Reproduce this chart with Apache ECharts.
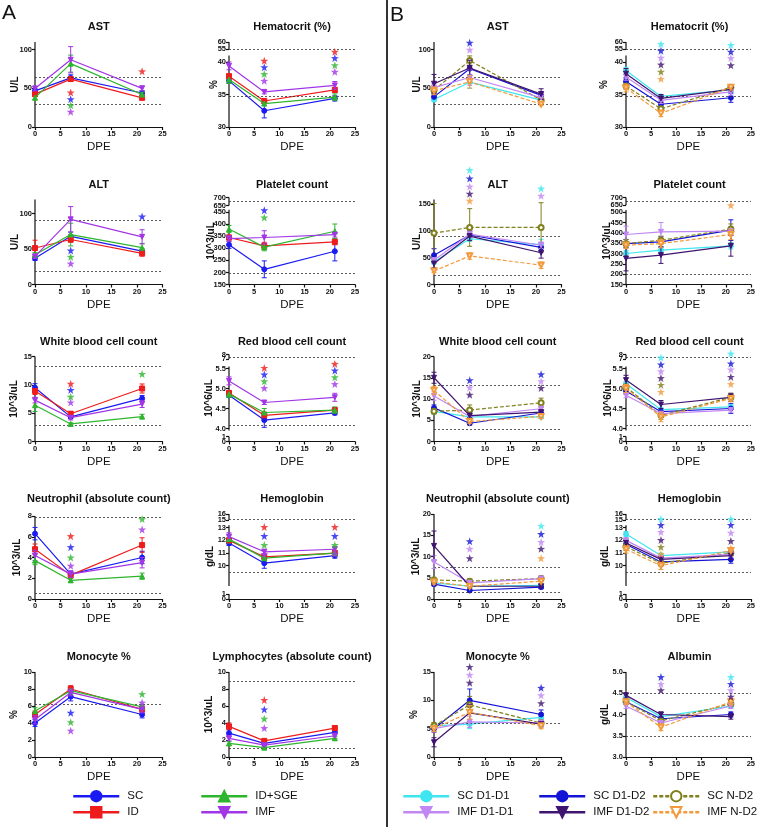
<!DOCTYPE html>
<html><head><meta charset="utf-8">
<script src="https://cdn.jsdelivr.net/npm/echarts@6/dist/echarts.min.js"></script>
<style>html,body{margin:0;padding:0;background:#fff}#c{width:758px;height:827px}</style>
</head><body><div id="c"></div><script>
// ---------------- DATA ----------------
const DPE = [0, 7, 21];
const GROUP_A = ['SC', 'ID', 'ID+SGE', 'IMF'];
const GROUP_B = ['SC D1-D1', 'SC D1-D2', 'SC N-D2', 'IMF D1-D1', 'IMF D1-D2', 'IMF N-D2'];

// ---- Panel A (rows follow GROUP_A order) ----
const astA_mean = [[46.7,63.5,44],[42.5,62,37.7],[38,82,42],[49.8,87,50]];
const astA_err  = [[3,4,3],[3,3,2],[3,11,3],[3,17,3]];
const astA_stars = [[7,44.6,'ID'],[7,36,'SC'],[7,28,'ID+SGE'],[7,19.7,'IMF'],[21,72,'ID']];
const astA_refs = [29, 64];
const astA_ticks = ['0','50','100'];

const hctA_mean = [[37.1,32.5,34.4],[37.8,34.0,35.7],[37.3,33.6,34.6],[39.4,35.4,36.4]];
const hctA_err  = [[0.4,1.1,0.4],[0.4,0.4,0.4],[0.6,0.3,0.5],[0.6,0.3,0.6]];
const hctA_stars = [[7,40.2,'ID'],[7,39.2,'SC'],[7,38.15,'ID+SGE'],[7,37.1,'IMF'],
                    [21,49.2,'ID'],[21,40.6,'SC'],[21,39.5,'ID+SGE'],[21,38.5,'IMF']];
const hctA_refs = [34.7, 55];
const hctA_ticks = ['30','35','40','55','60'];

const altA_mean = [[37,68,47],[51.5,63.5,44],[42,70.5,52],[39.7,92,67.3]];
const altA_err  = [[3,6,3],[11,4,4],[3,16,6],[3,18,10]];
const altA_stars = [[7,48,'SC'],[7,39,'ID+SGE'],[7,29.5,'IMF'],[21,96,'SC']];
const altA_refs = [19, 91];
const altA_ticks = ['0','50','100'];

const pltA_mean = [[315,213,288],[345,310,327],[380,305,371],[340,345,357]];
const pltA_err  = [[15,35,40],[10,15,12],[15,15,30],[12,28,10]];
const pltA_stars = [[7,458,'SC'],[7,428,'ID+SGE']];
const pltA_refs = [197, 675];
const pltA_ticks = ['150','200','250','300','350','400','450','650','700'];

const wbcA_mean = [[9.5,4.35,7.6],[8.9,4.9,9.35],[6.4,3.1,4.4],[7.3,4.2,6.6]];
const wbcA_err  = [[0.7,0.3,0.5],[0.6,0.4,0.8],[1.1,0.2,0.4],[0.5,0.4,0.6]];
const wbcA_stars = [[7,10.2,'ID'],[7,9.1,'SC'],[7,7.9,'ID+SGE'],[7,6.9,'IMF'],[21,11.9,'ID+SGE']];
const wbcA_refs = [2.9, 13.2];
const wbcA_ticks = ['0','5','10','15'];

const rbcA_mean = [[4.83,4.21,4.39],[4.89,4.33,4.46],[4.86,4.40,4.46],[5.19,4.65,4.78]];
const rbcA_err  = [[0.05,0.18,0.05],[0.05,0.08,0.05],[0.08,0.1,0.08],[0.1,0.05,0.1]];
const rbcA_stars = [[7,5.515,'ID'],[7,5.35,'SC'],[7,5.18,'ID+SGE'],[7,5.01,'IMF'],
                    [21,6.05,'ID'],[21,5.45,'SC'],[21,5.28,'ID+SGE'],[21,5.11,'IMF']];
const rbcA_refs = [4.08, 7.3];
const rbcA_ticks = ['0','1','4.0','4.5','5.0','5.5','7','8'];

const neuA_mean = [[6.3,2.4,4.0],[4.8,2.3,5.2],[3.7,1.8,2.2],[4.2,2.4,3.5]];
const neuA_err  = [[0.6,0.3,0.6],[0.5,0.3,0.7],[0.4,0.2,0.3],[0.5,0.3,0.5]];
const neuA_stars = [[7,6.06,'ID'],[7,5.0,'SC'],[7,4.0,'ID+SGE'],[7,3.2,'IMF'],[21,7.7,'ID+SGE'],[21,6.7,'IMF']];
const neuA_refs = [0.6, 7.9];
const neuA_ticks = ['0','2','4','6','8'];

const hgbA_mean = [[11.8,10.2,10.8],[12.0,10.7,11.0],[12.1,10.6,11.0],[12.3,11.1,11.3]];
const hgbA_err  = [[0.2,0.4,0.2],[0.2,0.2,0.2],[0.3,0.2,0.2],[0.3,0.2,0.2]];
const hgbA_stars = [[7,13.06,'ID'],[7,12.35,'SC'],[7,11.64,'ID+SGE'],[7,10.93,'IMF'],
                    [21,13.06,'ID'],[21,12.35,'SC'],[21,11.64,'ID+SGE'],[21,10.93,'IMF']];
const hgbA_refs = [9.45, 15.2];
const hgbA_ticks = ['0','1','10','11','12','13','15','16'];

const monA_mean = [[4.0,7.1,5.0],[5.0,8.0,5.6],[5.4,7.8,5.9],[4.4,7.6,5.6]];
const monA_err  = [[0.4,0.5,0.4],[0.4,0.4,0.4],[0.4,0.4,0.3],[0.5,0.4,0.4]];
const monA_stars = [[7,5.2,'SC'],[7,4.1,'ID+SGE'],[7,3.1,'IMF'],[21,7.4,'ID+SGE'],[21,6.4,'IMF']];
const monA_refs = [6.2];
const monA_ticks = ['0','2','4','6','8','10'];

const lymA_mean = [[2.8,1.6,2.9],[3.6,1.9,3.4],[1.6,1.1,2.2],[2.2,1.4,2.5]];
const lymA_err  = [[0.4,0.2,0.3],[0.4,0.2,0.3],[0.2,0.1,0.2],[0.3,0.2,0.3]];
const lymA_stars = [[7,6.7,'ID'],[7,5.6,'SC'],[7,4.5,'ID+SGE'],[7,3.4,'IMF']];
const lymA_refs = [1.0, 8.9];
const lymA_ticks = ['0','2','4','6','8','10'];

// ---- Panel B (rows follow GROUP_B order) ----
const astB_mean = [[35.6,58,34.8],[39,75.5,41],[47.6,86,35],[51,64,38],[56,76.4,42.5],[46.8,58.4,29.6]];
const astB_err  = [[3,8,3],[4,8,5],[5,6,4],[5,10,5],[12,10,7],[5,8,2]];
const astB_stars = [[7,109,'SC D1-D2'],[7,100,'IMF D1-D1']];
const astB_refs = [29, 64];
const astB_ticks = ['0','50','100'];

const hctB_mean = [[38.7,34.7,35.7],[37,33.5,34.5],[36.3,32.8,36.1],[37.7,34.1,35.4],[38.2,34.4,35.8],[36,32.1,36.1]];
const hctB_err  = [[0.5,0.3,0.4],[0.6,0.5,0.7],[0.5,0.4,0.4],[0.5,0.5,0.5],[0.8,0.6,0.4],[0.6,0.5,0.4]];
const hctB_stars = [[7,58.6,'SC D1-D1'],[7,51.3,'SC D1-D2'],[7,40.66,'IMF D1-D1'],[7,39.6,'IMF D1-D2'],[7,38.5,'SC N-D2'],[7,37.4,'IMF N-D2'],
                    [21,57.9,'SC D1-D1'],[21,49.2,'SC D1-D2'],[21,40.6,'IMF D1-D1'],[21,39.5,'IMF D1-D2']];
const hctB_refs = [34.7, 55];
const hctB_ticks = ['30','35','40','55','60'];

const altB_mean = [[42,85,74],[54.5,92,69],[95.5,106,106],[45,93.6,73],[39,90,59],[25,53,36]];
const altB_err  = [[4,5,10],[12,8,8],[55,35,46],[5,6,6],[8,8,10],[3,6,6]];
const altB_stars = [[7,212.6,'SC D1-D1'],[7,197,'SC D1-D2'],[7,182,'IMF D1-D1'],[7,168.6,'IMF D1-D2'],[7,155.6,'IMF N-D2'],
                    [21,178.5,'SC D1-D1'],[21,165,'IMF D1-D1']];
const altB_refs = [18, 90];
const altB_ticks = ['0','50','100','150'];

const pltB_mean = [[300,316,337],[348,356,413],[348,364,418],[392,405,408],[276,292,337],[340,348,392]];
const pltB_err  = [[15,15,15],[20,25,50],[20,20,25],[40,45,20],[60,40,50],[15,20,25]];
const pltB_stars = [[21,648,'IMF N-D2']];
const pltB_refs = [198, 674];
const pltB_ticks = ['150','200','250','300','350','400','450','500','650','700'];

const wbcB_mean = [[7.1,5.8,5.8],[7.9,4.3,6.7],[7.1,7.4,9.1],[10.7,5.9,7.7],[15,6.1,6.9],[12,4.7,5.9]];
const wbcB_err  = [[0.6,0.3,0.4],[0.7,0.4,0.5],[0.6,1.2,1.1],[1.0,0.5,0.6],[1.3,0.5,0.6],[1.0,0.4,0.5]];
const wbcB_stars = [[7,14.4,'SC D1-D2'],[7,12.7,'IMF D1-D1'],[7,11,'IMF D1-D2'],
                    [21,15.8,'SC D1-D2'],[21,14.2,'IMF D1-D1'],[21,12.6,'IMF D1-D2']];
const wbcB_refs = [3.0, 13.2];
const wbcB_ticks = ['0','5','10','15','20'];

const rbcB_mean = [[5.12,4.47,4.54],[4.94,4.42,4.5],[5.04,4.33,4.78],[4.83,4.37,4.46],[5.21,4.6,4.78],[5.0,4.29,4.75]];
const rbcB_err  = [[0.06,0.06,0.05],[0.08,0.05,0.12],[0.07,0.1,0.1],[0.06,0.05,0.05],[0.12,0.1,0.1],[0.1,0.12,0.08]];
const rbcB_stars = [[7,7.32,'SC D1-D1'],[7,5.93,'SC D1-D2'],[7,5.43,'IMF D1-D1'],[7,5.26,'IMF D1-D2'],[7,5.09,'SC N-D2'],[7,4.915,'IMF N-D2'],
                    [21,8.2,'SC D1-D1'],[21,6.13,'SC D1-D2'],[21,5.475,'IMF D1-D1'],[21,5.29,'IMF D1-D2'],[21,5.11,'IMF N-D2']];
const rbcB_refs = [4.08, 7.3];
const rbcB_ticks = ['0','1','4.0','4.5','5.0','5.5','7','8'];

const neuB_mean = [[3.8,3.0,3.2],[3.5,2.0,2.8],[4.5,4.2,4.8],[8.7,3.8,4.8],[12.5,3.0,3.0],[4.0,3.0,4.2]];
const neuB_err  = [[0.4,0.3,0.3],[0.4,0.3,0.4],[0.6,0.5,0.6],[1.5,0.5,0.6],[3.5,0.4,0.4],[0.5,0.4,0.5]];
const neuB_stars = [[7,13.6,'SC D1-D2'],[7,11.8,'IMF D1-D1'],[7,9.6,'IMF D1-D2'],
                    [21,17.2,'SC D1-D1'],[21,15.3,'SC D1-D2'],[21,13.4,'IMF D1-D1'],[21,11.8,'IMF D1-D2'],[21,9.6,'IMF N-D2']];
const neuB_refs = [1.6, 7.5];
const neuB_ticks = ['0','5','10','15','20'];

const hgbB_mean = [[12.5,10.8,11.1],[11.7,10.3,10.5],[11.5,10.2,11.0],[12.0,10.6,10.9],[11.8,10.5,10.8],[11.3,10.0,11.2]];
const hgbB_err  = [[0.2,0.2,0.2],[0.3,0.3,0.3],[0.3,0.2,0.2],[0.2,0.2,0.2],[0.3,0.2,0.3],[0.3,0.3,0.2]];
const hgbB_stars = [[7,15.17,'SC D1-D1'],[7,13.27,'SC D1-D2'],[7,12.66,'IMF D1-D1'],[7,12.03,'IMF D1-D2'],[7,11.48,'SC N-D2'],[7,10.93,'IMF N-D2'],
                    [21,15.17,'SC D1-D1'],[21,13.3,'SC D1-D2'],[21,12.6,'IMF D1-D1'],[21,11.95,'IMF D1-D2'],[21,11.4,'IMF N-D2']];
const hgbB_refs = [9.45, 15.2];
const hgbB_ticks = ['0','1','10','11','12','13','15','16'];

const monB_mean = [[5.5,5.8,7.0],[5.0,10.0,7.5],[5.5,9.2,6.0],[5.0,6.2,6.0],[2.6,7.8,5.8],[5.0,7.9,5.5]];
const monB_err  = [[0.5,0.8,0.6],[0.6,2.0,0.8],[0.6,1.5,0.5],[0.5,1.0,0.5],[0.8,1.5,0.5],[0.5,1.2,0.5]];
const monB_stars = [[7,15.9,'IMF D1-D2'],[7,14.5,'IMF D1-D1'],[7,13.1,'IMF D1-D2'],
                    [21,12.2,'SC D1-D2'],[21,10.9,'IMF D1-D1'],[21,9.5,'IMF D1-D2']];
const monB_refs = [6.0];
const monB_ticks = ['0','5','10','15'];

const albB_mean = [[4.4,3.95,4.2],[4.3,3.9,4.0],[4.3,3.85,4.25],[4.2,3.8,4.2],[4.45,4.0,3.95],[4.3,3.7,4.3]];
const albB_err  = [[0.05,0.08,0.05],[0.06,0.06,0.06],[0.06,0.08,0.06],[0.06,0.06,0.06],[0.06,0.06,0.06],[0.06,0.08,0.06]];
const albB_stars = [[7,4.88,'SC D1-D2'],[7,4.72,'IMF D1-D1'],[7,4.57,'IMF D1-D2'],
                    [21,4.88,'SC D1-D1'],[21,4.72,'SC D1-D2'],[21,4.57,'IMF D1-D1'],[21,4.42,'IMF D1-D2']];
const albB_refs = [3.5, 4.5];
const albB_ticks = ['3.0','3.5','4.0','4.5','5.0'];

// ---------------- STYLE / LAYOUT ----------------
const FONT = '"Liberation Sans", Arial, Helvetica, sans-serif';
const COLORS = {'SC':'#1a1af2','ID':'#ee1c1c','ID+SGE':'#2eb52e','IMF':'#a236e6',
  'SC D1-D1':'#3fe6f0','SC D1-D2':'#1414d6','SC N-D2':'#80801c','IMF D1-D1':'#c187f2','IMF D1-D2':'#3f1470','IMF N-D2':'#f39a3c'};
const SYMBOLS = {'SC':['circle',0],'ID':['rect',0],'ID+SGE':['triangle',0],'IMF':['triangle',180],
  'SC D1-D1':['circle',0],'SC D1-D2':['circle',0],'SC N-D2':['emptyCircle',0],
  'IMF D1-D1':['triangle',180],'IMF D1-D2':['triangle',180],'IMF N-D2':['emptyTriangle',180]};
const DASHED = {'SC N-D2':true,'IMF N-D2':true};
const STAR = 'path://M0,-10L2.35,-3.24L9.51,-3.09L3.8,1.24L5.88,8.09L0,4L-5.88,8.09L-3.8,1.24L-9.51,-3.09L-2.35,-3.24Z';

const COLS = [{l:35,r:162.5},{l:229,r:355},{l:434,r:561.5},{l:626,r:753}];
const ROWS = [127, 284.5, 441.5, 599, 757];

// segs: [valueFrom, valueTo, pixelFrom, pixelTo] (pixel offsets above x axis)
const PANELS = [
 {title:'AST', unit:'U/L', c:0, r:0, g:GROUP_A, m:astA_mean, e:astA_err, s:astA_stars, ref:astA_refs, t:astA_ticks, segs:[[0,110,0,85]], ng:15},
 {title:'Hematocrit (%)', unit:'%', c:1, r:0, g:GROUP_A, m:hctA_mean, e:hctA_err, s:hctA_stars, ref:hctA_refs, t:hctA_ticks, segs:[[30,41,0,71.5],[55,60,78,85]], ng:10},
 {title:'ALT', unit:'U/L', c:0, r:1, g:GROUP_A, m:altA_mean, e:altA_err, s:altA_stars, ref:altA_refs, t:altA_ticks, segs:[[0,120,0,85]], ng:15},
 {title:'Platelet count', unit:'10^3/uL', c:1, r:1, g:GROUP_A, m:pltA_mean, e:pltA_err, s:pltA_stars, ref:pltA_refs, t:pltA_ticks, segs:[[150,460,0,74.7],[650,700,79,87]], ng:13},
 {title:'White blood cell count', unit:'10^3/uL', c:0, r:2, g:GROUP_A, m:wbcA_mean, e:wbcA_err, s:wbcA_stars, ref:wbcA_refs, t:wbcA_ticks, segs:[[0,15,0,85]], ng:16},
 {title:'Red blood cell count', unit:'10^6/uL', c:1, r:2, g:GROUP_A, m:rbcA_mean, e:rbcA_err, s:rbcA_stars, ref:rbcA_refs, t:rbcA_ticks, segs:[[0,1,0,5],[3.95,5.55,11,75],[7,8,82.6,87]], ng:15},
 {title:'Neutrophil (absolute count)', unit:'10^3/uL', c:0, r:3, g:GROUP_A, m:neuA_mean, e:neuA_err, s:neuA_stars, ref:neuA_refs, t:neuA_ticks, segs:[[0,8,0,83]], ng:13},
 {title:'Hemoglobin', unit:'g/dL', c:1, r:3, g:GROUP_A, m:hgbA_mean, e:hgbA_err, s:hgbA_stars, ref:hgbA_refs, t:hgbA_ticks, segs:[[0,1,0,5],[8.4,13.2,13,73.8],[15,16,79,85]], ng:14},
 {title:'Monocyte %', unit:'%', c:0, r:4, g:GROUP_A, m:monA_mean, e:monA_err, s:monA_stars, ref:monA_refs, t:monA_ticks, segs:[[0,10,0,85]], ng:16},
 {title:'Lymphocytes (absolute count)', unit:'10^3/uL', c:1, r:4, g:GROUP_A, m:lymA_mean, e:lymA_err, s:lymA_stars, ref:lymA_refs, t:lymA_ticks, segs:[[0,10,0,85]], ng:15},
 {title:'AST', unit:'U/L', c:2, r:0, g:GROUP_B, m:astB_mean, e:astB_err, s:astB_stars, ref:astB_refs, t:astB_ticks, segs:[[0,110,0,85]], ng:12},
 {title:'Hematocrit (%)', unit:'%', c:3, r:0, g:GROUP_B, m:hctB_mean, e:hctB_err, s:hctB_stars, ref:hctB_refs, t:hctB_ticks, segs:[[30,41,0,71.5],[55,60,78,85]], ng:17},
 {title:'ALT', unit:'U/L', c:2, r:1, g:GROUP_B, m:altB_mean, e:altB_err, s:altB_stars, ref:altB_refs, t:altB_ticks, segs:[[0,158,0,85]], ng:12},
 {title:'Platelet count', unit:'10^3/uL', c:3, r:1, g:GROUP_B, m:pltB_mean, e:pltB_err, s:pltB_stars, ref:pltB_refs, t:pltB_ticks, segs:[[150,510,0,74.4],[650,700,79.3,87]], ng:14},
 {title:'White blood cell count', unit:'10^3/uL', c:2, r:2, g:GROUP_B, m:wbcB_mean, e:wbcB_err, s:wbcB_stars, ref:wbcB_refs, t:wbcB_ticks, segs:[[0,20,0,85]], ng:12},
 {title:'Red blood cell count', unit:'10^6/uL', c:3, r:2, g:GROUP_B, m:rbcB_mean, e:rbcB_err, s:rbcB_stars, ref:rbcB_refs, t:rbcB_ticks, segs:[[0,1,0,5],[3.95,5.55,11,75],[7,8,82.6,87]], ng:13},
 {title:'Neutrophil (absolute count)', unit:'10^3/uL', c:2, r:3, g:GROUP_B, m:neuB_mean, e:neuB_err, s:neuB_stars, ref:neuB_refs, t:neuB_ticks, segs:[[0,20,0,85]], ng:13},
 {title:'Hemoglobin', unit:'g/dL', c:3, r:3, g:GROUP_B, m:hgbB_mean, e:hgbB_err, s:hgbB_stars, ref:hgbB_refs, t:hgbB_ticks, segs:[[0,1,0,5],[8.4,13.2,13,73.8],[15,16,79,85]], ng:16},
 {title:'Monocyte %', unit:'%', c:2, r:4, g:GROUP_B, m:monB_mean, e:monB_err, s:monB_stars, ref:monB_refs, t:monB_ticks, segs:[[0,15,0,85]], ng:15},
 {title:'Albumin', unit:'g/dL', c:3, r:4, g:GROUP_B, m:albB_mean, e:albB_err, s:albB_stars, ref:albB_refs, t:albB_ticks, segs:[[3,5,0,85]], ng:16}
];

function toDisp(v, segs){
  const n = segs.length;
  for (let i = 0; i < n; i++){
    const [a,b,c,d] = segs[i];
    if (v < a && i > 0){ const p = segs[i-1]; return p[3] + (v - p[1]) * (c - p[3]) / (a - p[1]); }
    if (v <= b || i === n-1) return c + (v - a) * (d - c) / (b - a);
  }
}

const option = {animation:false, backgroundColor:'#fff', textStyle:{fontFamily:FONT},
  grid:[], xAxis:[], yAxis:[], series:[], graphic:[], legend:[]};

const LABEL_STYLE = {fontSize:7.5, fontWeight:'bold', color:'#111', margin:3, fontFamily:FONT,
  showMinLabel:true, showMaxLabel:true, hideOverlap:false};

PANELS.forEach((p, k) => {
  const col = COLS[p.c], axisY = ROWS[p.r];
  const H = p.segs[p.segs.length-1][3];
  const yi = 2 * k;
  option.grid.push({left:col.l, top:axisY - H, width:col.r - col.l, height:H});
  option.xAxis.push({gridIndex:k, type:'value', min:0, max:25, interval:5,
    axisLine:{lineStyle:{color:'#111', width:1.2}}, axisTick:{length:3, lineStyle:{color:'#111', width:1.2}},
    axisLabel:{fontSize:7.5, fontWeight:'bold', color:'#111', margin:3, fontFamily:FONT},
    splitLine:{show:false}, name:'DPE', nameLocation:'middle', nameGap:14,
    nameTextStyle:{fontSize:11.5, color:'#111', fontFamily:FONT}});
  const tickVals = p.t.map(s => toDisp(parseFloat(s), p.segs));
  const fmt = (v) => { const i = tickVals.findIndex(t => Math.abs(t - v) < 0.01); return i >= 0 ? p.t[i] : ''; };
  // labels split over two overlaid axes so that closely spaced labels around breaks are all kept
  const evenVals = tickVals.filter((v, i) => i % 2 === 0);
  const oddVals = tickVals.filter((v, i) => i % 2 === 1);
  option.yAxis.push({gridIndex:k, type:'value', position:'left', min:0, max:H,
    axisLine:{show:false}, axisTick:{show:true, length:3, customValues:tickVals, lineStyle:{color:'#111', width:1.2}},
    axisLabel:Object.assign({customValues:evenVals, formatter:fmt}, LABEL_STYLE),
    splitLine:{show:false}, name:p.unit, nameLocation:'middle', nameGap:p.ng, nameRotate:90, nameMoveOverlap:false,
    nameTextStyle:{fontSize:10, fontWeight:'bold', color:'#111', fontFamily:FONT}});
  option.yAxis.push({gridIndex:k, type:'value', position:'left', offset:0, min:0, max:H,
    axisLine:{show:false}, axisTick:{show:false},
    axisLabel:Object.assign({show:oddVals.length > 0, customValues:oddVals.length ? oddVals : [0], formatter:fmt}, LABEL_STYLE),
    splitLine:{show:false}});
  // y axis line pieces (broken axis)
  option.series.push({type:'custom', xAxisIndex:k, yAxisIndex:yi, silent:true, clip:false, z:1,
    data:p.segs.map(s => [s[2], s[3]]), encode:{x:-1, y:[0,1]},
    renderItem:(params, api) => {
      const a = api.coord([0, api.value(0)]), b = api.coord([0, api.value(1)]);
      return {type:'line', shape:{x1:a[0], y1:a[1], x2:b[0], y2:b[1]}, style:{stroke:'#111', lineWidth:1.2}};
    }});
  // reference lines
  option.series.push({type:'line', xAxisIndex:k, yAxisIndex:yi, data:[], silent:true,
    markLine:{silent:true, symbol:['none','none'], label:{show:false}, animation:false,
      lineStyle:{type:[2,2], color:'#333', width:0.8},
      data:p.ref.map(v => ({yAxis:toDisp(v, p.segs)}))}});
  // error bars and mean lines
  p.g.forEach((name, gi) => {
    const color = COLORS[name];
    option.series.push({type:'custom', name:name + ' SEM', xAxisIndex:k, yAxisIndex:yi, silent:true, clip:false, z:2+gi,
      data:DPE.map((x, i) => [x, toDisp(p.m[gi][i] - p.e[gi][i], p.segs), toDisp(p.m[gi][i] + p.e[gi][i], p.segs)]),
      encode:{x:0, y:[1,2]},
      renderItem:(params, api) => {
        const x = api.value(0);
        const a = api.coord([x, api.value(1)]), b = api.coord([x, api.value(2)]);
        const w = 2.5, st = {stroke:color, lineWidth:1};
        return {type:'group', children:[
          {type:'line', shape:{x1:a[0], y1:a[1], x2:b[0], y2:b[1]}, style:st},
          {type:'line', shape:{x1:a[0]-w, y1:a[1], x2:a[0]+w, y2:a[1]}, style:st},
          {type:'line', shape:{x1:b[0]-w, y1:b[1], x2:b[0]+w, y2:b[1]}, style:st}]};
      }});
    option.series.push({type:'line', name:name, xAxisIndex:k, yAxisIndex:yi, z:3+gi,
      data:DPE.map((x, i) => [x, toDisp(p.m[gi][i], p.segs)]),
      symbol:SYMBOLS[name][0], symbolRotate:SYMBOLS[name][1], symbolSize:5,
      itemStyle:{color:color, borderColor:color, borderWidth:1},
      lineStyle:{color:color, width:1.2, type:DASHED[name] ? [4,2] : 'solid'}});
  });
  // significance stars
  option.series.push({type:'scatter', xAxisIndex:k, yAxisIndex:yi, clip:false, silent:true, z:20,
    symbol:STAR, symbolSize:8,
    data:p.s.map(([x, y, name]) => ({value:[x, toDisp(y, p.segs)], itemStyle:{color:COLORS[name]}}))});
  // title
  option.graphic.push({type:'text', x:(col.l + col.r)/2, y:axisY - 100,
    style:{text:p.title, font:'bold 11px ' + FONT, fill:'#111', align:'center', verticalAlign:'middle'}});
});

// legends
const LEGEND_POS = [['SC',72,790],['ID+SGE',200,790],['ID',72,806],['IMF',200,806],
  ['SC D1-D1',402,790],['SC D1-D2',538,790],['SC N-D2',652,790],
  ['IMF D1-D1',402,806],['IMF D1-D2',538,806],['IMF N-D2',652,806]];
LEGEND_POS.forEach(([n, x, y]) => option.legend.push({data:[n], left:x, top:y, padding:0, itemWidth:46, itemHeight:13,
  selectedMode:false, lineStyle:{width:2.5}, textStyle:{fontSize:11.5, color:'#111', fontFamily:FONT, padding:[0,0,0,3]}}));

option.graphic.push({type:'line', shape:{x1:387, y1:0, x2:387, y2:827}, style:{stroke:'#333', lineWidth:2}});
option.graphic.push({type:'text', x:2, y:24, style:{text:'A', font:'21px ' + FONT, fill:'#111', verticalAlign:'bottom'}});
option.graphic.push({type:'text', x:390, y:26, style:{text:'B', font:'21px ' + FONT, fill:'#111', verticalAlign:'bottom'}});

const chart = echarts.init(document.getElementById('c'), null, {width:758, height:827});
chart.setOption(option);
</script></body></html>
